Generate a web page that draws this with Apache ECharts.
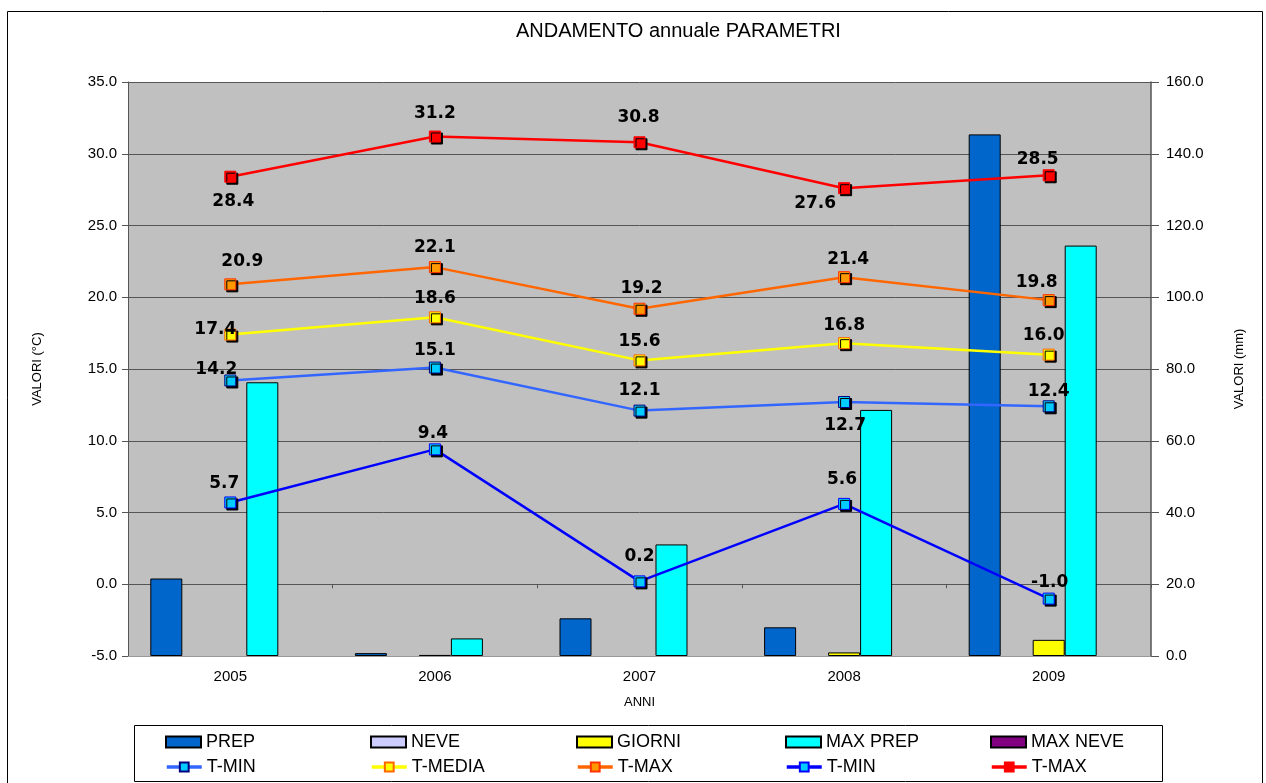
<!DOCTYPE html>
<html>
<head>
<meta charset="utf-8">
<title>ANDAMENTO annuale PARAMETRI</title>
<script src="https://cdn.jsdelivr.net/npm/echarts@6/dist/echarts.min.js"></script>
<style>
    html, body { margin: 0; padding: 0; background: #fff; }
    #chart { width: 1266px; height: 783px; }
</style>
</head>
<body>
<div id="chart"></div>
<script>
// dati
var anni = ['2005', '2006', '2007', '2008', '2009'];

var prep    = [21.6, 0.8, 10.5, 8.0, 145.4];
var neve    = [0, 0, 0, 0, 0];
var giorni  = [0, 0.3, 0, 1.0, 4.5];
var maxPrep = [76.3, 4.9, 31.1, 68.6, 114.4];
var maxNeve = [0, 0, 0, 0, 0];

var tMin   = [14.2, 15.1, 12.1, 12.7, 12.4];
var tMedia = [17.4, 18.6, 15.6, 16.8, 16.0];
var tMax   = [20.9, 22.1, 19.2, 21.4, 19.8];
var tMin2  = [5.7, 9.4, 0.2, 5.6, -1.0];
var tMax2  = [28.4, 31.2, 30.8, 27.6, 28.5];

// spostamento etichette (px) rispetto al punto
var offTMin   = [[-14, -11], [0, -17], [0, -20], [1, 24], [0, -15]];
var offTMedia = [[-15, -5], [0, -19], [0, -19], [0, -18], [-5, -19]];
var offTMax   = [[12, -23], [0, -20], [2, -20], [4, -18], [-12, -18]];
var offTMin2  = [[-6, -19], [-2, -16], [0, -25], [-2, -24], [1, -16]];
var offTMax2  = [[3, 25], [0, -23], [-1, -25], [-29, 15], [-11, -16]];

var dom = document.getElementById('chart');
var myChart = echarts.init(dom);

function barra(nome, valori, colore) {
    return {
        name: nome,
        type: 'bar',
        xAxisIndex: 0,
        yAxisIndex: 1,
        barGap: '0%',
        barCategoryGap: '21.8%',
        data: valori.map(function (v) { return v === 0 ? '-' : v; }),
        itemStyle: { color: colore, borderColor: '#000', borderWidth: 1 },
        emphasis: { disabled: true }
    };
}

function linea(nome, valori, colLinea, riemp, bordo, offs) {
    return {
        name: nome,
        type: 'line',
        xAxisIndex: 0,
        yAxisIndex: 0,
        symbol: 'rect',
        symbolSize: 11,
        z: 5,
        lineStyle: { color: colLinea, width: 2.5 },
        itemStyle: {
            color: riemp, borderColor: bordo, borderWidth: 1,
            shadowColor: '#000', shadowOffsetX: 2, shadowOffsetY: 2, shadowBlur: 0
        },
        emphasis: { disabled: true },
        data: valori.map(function (v, i) {
            return {
                value: v,
                label: { offset: offs[i] }
            };
        }),
        label: {
            show: true,
            position: 'inside',
            formatter: function (p) { return p.value.toFixed(1); },
            fontFamily: 'DejaVu Sans',
            fontWeight: 'bold',
            fontSize: 17,
            color: '#000'
        }
    };
}

var legende = [
    ['PREP', 165, 733, 'rect'], ['NEVE', 370, 733, 'rect'], ['GIORNI', 576, 733, 'rect'],
    ['MAX PREP', 785, 733, 'rect'], ['MAX NEVE', 990, 733, 'rect'],
    ['T-MIN', 165, 758], ['T-MEDIA', 370, 758], ['T-MAX', 576, 758], ['T-MIN ', 785, 758], ['T-MAX ', 990, 758]
];

option = {
    animation: false,
    backgroundColor: '#fff',
    title: {
        text: 'ANDAMENTO annuale PARAMETRI',
        left: 516,
        top: 21,
        padding: 0,
        textStyle: { fontFamily: 'Liberation Sans', fontWeight: 'normal', fontSize: 20, color: '#000' }
    },
    legend: legende.map(function (l) {
        var leg = {
            left: l[1],
            top: l[2],
            padding: 0,
            itemWidth: 35,
            itemHeight: 11,
            selectedMode: false,
            data: [l[0]],
            lineStyle: { width: 3.5 },
            itemStyle: { shadowBlur: 0, shadowOffsetX: 0, shadowOffsetY: 0 },
            textStyle: { fontFamily: 'Liberation Sans', fontSize: 18, color: '#000' }
        };
        if (l[3]) {
            leg.icon = l[3];
        }
        return leg;
    }),
    graphic: [
        {
            type: 'rect',
            shape: { x: 7.5, y: 11.5, width: 1255, height: 800 },
            style: { fill: 'none', stroke: '#000', lineWidth: 1 },
            silent: true
        },
        {
            type: 'rect',
            shape: { x: 134.5, y: 725.5, width: 1028, height: 56 },
            style: { fill: 'none', stroke: '#000', lineWidth: 1 },
            silent: true
        }
    ],
    grid: {
        left: 128,
        right: 115,
        top: 82,
        bottom: 127,
        show: true,
        backgroundColor: '#C0C0C0',
        borderWidth: 0
    },
    xAxis: [
        {
            type: 'category',
            data: anni,
            position: 'bottom',
            name: 'ANNI',
            nameLocation: 'middle',
            nameGap: 40,
            nameTextStyle: { fontFamily: 'Liberation Sans', fontSize: 13, color: '#000' },
            axisLine: { onZero: false, lineStyle: { color: '#999', width: 1 } },
            axisTick: { show: false },
            axisLabel: { fontFamily: 'Liberation Sans', fontSize: 15, color: '#000', margin: 13 }
        },
        {
            type: 'category',
            data: anni,
            position: 'bottom',
            axisLine: { onZero: true, onZeroAxisIndex: 0, lineStyle: { color: '#555', width: 1 } },
            axisTick: { show: true, length: 4, lineStyle: { color: '#555' } },
            axisLabel: { show: false }
        }
    ],
    yAxis: [
        {
            type: 'value',
            min: -5,
            max: 35,
            interval: 5,
            name: 'VALORI (°C)',
            nameLocation: 'middle',
            nameRotate: 90,
            nameGap: 84,
            nameTextStyle: { fontFamily: 'Liberation Sans', fontSize: 13, color: '#000' },
            axisLine: { show: true, lineStyle: { color: '#555', width: 1 } },
            axisTick: { show: true, length: 6, lineStyle: { color: '#555' } },
            axisLabel: {
                fontFamily: 'Liberation Sans', fontSize: 15, color: '#000', margin: 11,
                formatter: function (v) { return v.toFixed(1); }
            },
            splitLine: { show: true, lineStyle: { color: '#555', width: 1 } }
        },
        {
            type: 'value',
            min: 0,
            max: 160,
            interval: 20,
            position: 'right',
            name: 'VALORI (mm)',
            nameLocation: 'middle',
            nameRotate: 90,
            nameGap: 82,
            nameTextStyle: { fontFamily: 'Liberation Sans', fontSize: 13, color: '#000' },
            axisLine: { show: true, lineStyle: { color: '#555', width: 1.5 } },
            axisTick: { show: true, length: 8, lineStyle: { color: '#555' } },
            axisLabel: {
                fontFamily: 'Liberation Sans', fontSize: 15, color: '#000', margin: 15,
                formatter: function (v) { return v.toFixed(1); }
            },
            splitLine: { show: false }
        }
    ],
    series: [
        barra('PREP', prep, '#0066CC'),
        barra('NEVE', neve, '#CCCCFF'),
        barra('GIORNI', giorni, '#FFFF00'),
        barra('MAX PREP', maxPrep, '#00FFFF'),
        barra('MAX NEVE', maxNeve, '#800080'),
        linea('T-MIN', tMin, '#3366FF', '#00CCFF', '#000080', offTMin),
        linea('T-MEDIA', tMedia, '#FFFF00', '#FFFF00', '#FF6600', offTMedia),
        linea('T-MAX', tMax, '#FF6600', '#FF9900', '#FF3300', offTMax),
        linea('T-MIN ', tMin2, '#0000FF', '#00CCFF', '#0000FF', offTMin2),
        linea('T-MAX ', tMax2, '#FF0000', '#FF0000', '#FF0000', offTMax2)
    ]
};

if (option && typeof option === "object") {
    myChart.setOption(option, true);
}
</script>
</body>
</html>
